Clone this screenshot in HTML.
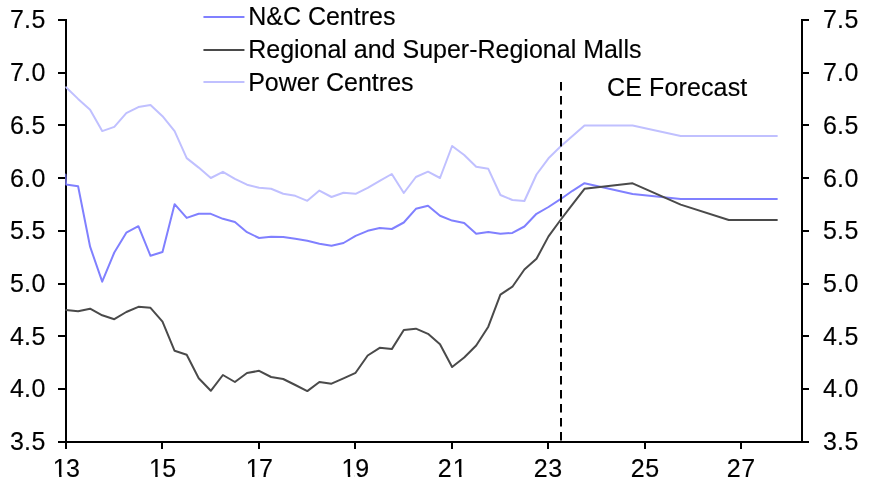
<!DOCTYPE html>
<html><head><meta charset="utf-8"><title>Chart</title>
<style>html,body{margin:0;padding:0;background:#fff}svg{display:block;will-change:transform}text{font-family:"Liberation Sans",sans-serif;font-size:25px;fill:#000;stroke:#000;stroke-width:0.15px}</style>
</head><body>
<svg width="871" height="485" viewBox="0 0 871 485">
<rect width="871" height="485" fill="#fff"/>
<line stroke="#000" stroke-width="2" fill="none" x1="66" y1="19" x2="66" y2="449"/>
<line stroke="#000" stroke-width="2" fill="none" x1="802" y1="19" x2="802" y2="443"/>
<line stroke="#000" stroke-width="2" fill="none" x1="58" y1="442" x2="809" y2="442"/>
<line stroke="#000" stroke-width="2" fill="none" x1="58" y1="20.00" x2="66" y2="20.00"/>
<line stroke="#000" stroke-width="2" fill="none" x1="802" y1="20.00" x2="809" y2="20.00"/>
<line stroke="#000" stroke-width="2" fill="none" x1="58" y1="73.00" x2="66" y2="73.00"/>
<line stroke="#000" stroke-width="2" fill="none" x1="802" y1="73.00" x2="809" y2="73.00"/>
<line stroke="#000" stroke-width="2" fill="none" x1="58" y1="125.00" x2="66" y2="125.00"/>
<line stroke="#000" stroke-width="2" fill="none" x1="802" y1="125.00" x2="809" y2="125.00"/>
<line stroke="#000" stroke-width="2" fill="none" x1="58" y1="178.00" x2="66" y2="178.00"/>
<line stroke="#000" stroke-width="2" fill="none" x1="802" y1="178.00" x2="809" y2="178.00"/>
<line stroke="#000" stroke-width="2" fill="none" x1="58" y1="231.00" x2="66" y2="231.00"/>
<line stroke="#000" stroke-width="2" fill="none" x1="802" y1="231.00" x2="809" y2="231.00"/>
<line stroke="#000" stroke-width="2" fill="none" x1="58" y1="284.00" x2="66" y2="284.00"/>
<line stroke="#000" stroke-width="2" fill="none" x1="802" y1="284.00" x2="809" y2="284.00"/>
<line stroke="#000" stroke-width="2" fill="none" x1="58" y1="336.00" x2="66" y2="336.00"/>
<line stroke="#000" stroke-width="2" fill="none" x1="802" y1="336.00" x2="809" y2="336.00"/>
<line stroke="#000" stroke-width="2" fill="none" x1="58" y1="389.00" x2="66" y2="389.00"/>
<line stroke="#000" stroke-width="2" fill="none" x1="802" y1="389.00" x2="809" y2="389.00"/>
<line stroke="#000" stroke-width="2" fill="none" x1="162.00" y1="442" x2="162.00" y2="449"/>
<line stroke="#000" stroke-width="2" fill="none" x1="259.00" y1="442" x2="259.00" y2="449"/>
<line stroke="#000" stroke-width="2" fill="none" x1="355.00" y1="442" x2="355.00" y2="449"/>
<line stroke="#000" stroke-width="2" fill="none" x1="452.00" y1="442" x2="452.00" y2="449"/>
<line stroke="#000" stroke-width="2" fill="none" x1="548.00" y1="442" x2="548.00" y2="449"/>
<line stroke="#000" stroke-width="2" fill="none" x1="645.00" y1="442" x2="645.00" y2="449"/>
<line stroke="#000" stroke-width="2" fill="none" x1="741.00" y1="442" x2="741.00" y2="449"/>
<clipPath id="pc"><rect x="65.3" y="0" width="760" height="442"/></clipPath>
<polyline clip-path="url(#pc)" fill="none" stroke-width="2" stroke-linejoin="round" stroke-linecap="round" stroke="#C0C0FF" points="66.0,87.2 78.1,98.9 90.1,109.7 102.2,131.1 114.3,126.9 126.3,113.1 138.4,107.1 150.5,104.9 162.5,116.2 174.6,131.2 186.7,158.1 198.7,167.6 210.8,178.0 222.9,171.8 234.9,178.8 247.0,184.7 259.1,187.8 271.1,188.8 283.2,193.7 295.3,195.8 307.3,200.8 319.4,190.6 331.5,197.0 343.5,192.8 355.6,193.8 367.7,187.8 379.7,180.8 391.8,174.0 403.8,193.0 415.9,177.0 428.0,171.7 440.0,178.0 452.1,146.0 464.2,155.0 476.2,166.8 488.3,168.8 500.4,195.0 512.4,200.0 524.4,201.0 536.5,174.5 548.5,158.3 560.5,146.5 572.5,136.0 584.5,125.5 632.6,125.5 680.7,136.0 776.9,136.0"/>
<polyline clip-path="url(#pc)" fill="none" stroke-width="2" stroke-linejoin="round" stroke-linecap="round" stroke="#8080FF" points="65.4,174.6 66.0,184.4 78.1,186.2 90.1,246.7 102.2,281.7 114.3,252.5 126.3,232.7 138.4,226.2 150.5,255.8 162.5,252.0 174.6,204.2 186.7,217.9 198.7,213.8 210.8,213.8 222.9,218.8 234.9,222.0 247.0,232.2 259.1,238.0 271.1,236.8 283.2,237.0 295.3,238.8 307.3,240.8 319.4,243.8 331.5,245.8 343.5,243.0 355.6,235.8 367.7,230.8 379.7,228.0 391.8,229.0 403.8,222.5 415.9,208.8 428.0,205.8 440.0,215.8 452.1,220.6 464.2,223.0 476.2,233.8 488.3,232.0 500.4,233.8 512.4,232.9 524.4,226.5 536.5,213.8 548.5,207.0 560.5,199.2 572.5,190.8 584.5,183.2 632.6,194.0 680.7,199.0 776.9,199.0"/>
<polyline clip-path="url(#pc)" fill="none" stroke-width="2" stroke-linejoin="round" stroke-linecap="round" stroke="#4A4A4A" points="66.0,310.0 78.1,311.2 90.1,308.7 102.2,315.3 114.3,319.2 126.3,312.0 138.4,306.8 150.5,307.8 162.5,321.7 174.6,350.8 186.7,354.8 198.7,378.2 210.8,390.8 222.9,375.0 234.9,382.0 247.0,373.0 259.1,370.8 271.1,377.0 283.2,379.0 295.3,385.0 307.3,391.1 319.4,382.0 331.5,383.7 343.5,378.3 355.6,372.8 367.7,355.5 379.7,347.8 391.8,349.1 403.8,330.0 415.9,328.7 428.0,333.8 440.0,344.2 452.1,367.0 464.2,357.5 476.2,345.5 488.3,326.7 500.4,294.7 512.4,286.7 524.4,269.5 536.5,258.8 548.5,236.4 560.5,220.0 572.5,204.3 584.5,188.8 632.6,183.3 680.7,204.6 728.8,220.0 776.9,220.0"/>
<line x1="561" y1="82.1" x2="561" y2="441" stroke="#000" stroke-width="2" stroke-dasharray="8.3 5.7"/>
<text x="10 23.9 31.45" y="27.7">7.5</text>
<text x="823 836.9 844.45" y="27.7">7.5</text>
<text x="10 23.9 31.45" y="80.7">7.0</text>
<text x="823 836.9 844.45" y="80.7">7.0</text>
<text x="10 23.9 31.45" y="133.7">6.5</text>
<text x="823 836.9 844.45" y="133.7">6.5</text>
<text x="10 23.9 31.45" y="186.7">6.0</text>
<text x="823 836.9 844.45" y="186.7">6.0</text>
<text x="10 23.9 31.45" y="238.7">5.5</text>
<text x="823 836.9 844.45" y="238.7">5.5</text>
<text x="10 23.9 31.45" y="291.7">5.0</text>
<text x="823 836.9 844.45" y="291.7">5.0</text>
<text x="10 23.9 31.45" y="344.7">4.5</text>
<text x="823 836.9 844.45" y="344.7">4.5</text>
<text x="10 23.9 31.45" y="396.7">4.0</text>
<text x="823 836.9 844.45" y="396.7">4.0</text>
<text x="10 23.9 31.45" y="449.7">3.5</text>
<text x="823 836.9 844.45" y="449.7">3.5</text>
<text x="52.80 66.10" y="477">13</text>
<text x="148.90 162.20" y="477">15</text>
<text x="245.70 259.00" y="477">17</text>
<text x="341.50 355.15" y="477">19</text>
<text x="437.75 452.80" y="477">21</text>
<text x="533.80 548.35" y="477">23</text>
<text x="630.75 645.20" y="477">25</text>
<text x="726.70 741.20" y="477">27</text>
<rect x="53.20" y="474.6" width="5.95" height="3.4" fill="#fff"/>
<rect x="61.55" y="474.6" width="4.50" height="3.4" fill="#fff"/>
<rect x="149.30" y="474.6" width="5.95" height="3.4" fill="#fff"/>
<rect x="157.65" y="474.6" width="4.50" height="3.4" fill="#fff"/>
<rect x="246.10" y="474.6" width="5.95" height="3.4" fill="#fff"/>
<rect x="254.45" y="474.6" width="4.50" height="3.4" fill="#fff"/>
<rect x="341.90" y="474.6" width="5.95" height="3.4" fill="#fff"/>
<rect x="350.25" y="474.6" width="4.50" height="3.4" fill="#fff"/>
<rect x="453.20" y="474.6" width="5.95" height="3.4" fill="#fff"/>
<rect x="461.55" y="474.6" width="4.50" height="3.4" fill="#fff"/>
<line x1="204.2" y1="17" x2="243.7" y2="17" stroke="#8080FF" stroke-width="2" stroke-linecap="round"/>
<line x1="204.2" y1="50" x2="243.7" y2="50" stroke="#4A4A4A" stroke-width="2" stroke-linecap="round"/>
<line x1="204.2" y1="82" x2="243.7" y2="82" stroke="#C0C0FF" stroke-width="2" stroke-linecap="round"/>
<text x="248.2" y="24.5" letter-spacing="0">N&amp;C Centres</text>
<text x="248.2" y="58.3" letter-spacing="0">Regional and Super-Regional Malls</text>
<text x="248.2" y="91.1" letter-spacing="0">Power Centres</text>
<text x="607.0" y="96.2" letter-spacing="0.13">CE Forecast</text>
</svg>
</body></html>
